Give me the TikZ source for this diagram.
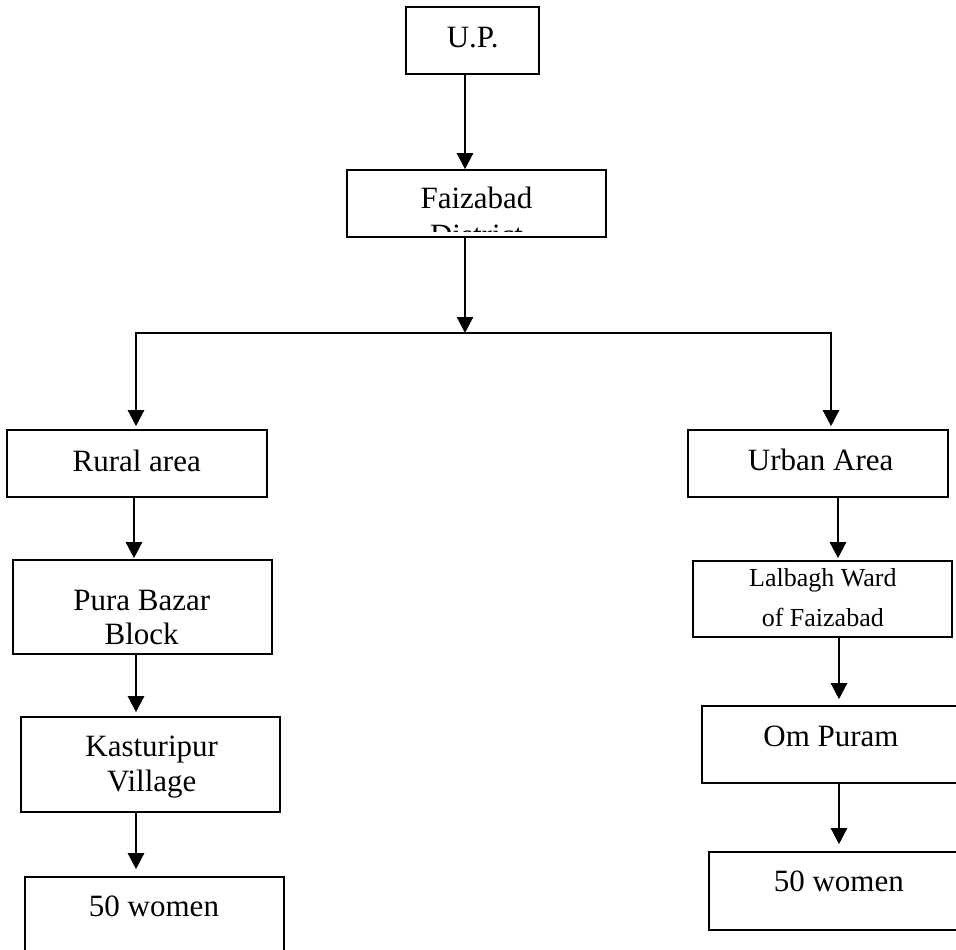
\documentclass[tikz,border=0pt]{standalone}
\usepackage{fontspec}
\setmainfont{Liberation Serif}
\usetikzlibrary{arrows.meta}
\begin{document}
\begin{tikzpicture}[x=1pt,y=-1pt,
  box/.style={draw=black,line width=1.6pt,rectangle,inner sep=0pt},
  txt/.style={anchor=base,inner sep=0pt,font=\fontsize{31}{36}\selectfont},
  smalltxt/.style={anchor=base,inner sep=0pt,font=\fontsize{26}{30}\selectfont},
  arr/.style={line width=2.4pt,-{Triangle[length=16pt,width=16pt]}},
  bar/.style={line width=2.4pt}]
\useasboundingbox (0,0) rectangle (956,950);
\clip (0,0) rectangle (956,950);
% boxes
\node[box,minimum width=133pt,minimum height=67pt] (up) at (472.5,40.5) {};
\node[box,minimum width=259pt,minimum height=67pt] (fz) at (476.5,203.5) {};
\node[box,minimum width=260pt,minimum height=67pt] (rural) at (137,463.5) {};
\node[box,minimum width=260pt,minimum height=67pt] (urban) at (818,463.5) {};
\node[box,minimum width=259pt,minimum height=94pt] (pura) at (142.5,607) {};
\node[box,minimum width=259pt,minimum height=76pt] (lal) at (822.5,599) {};
\node[box,minimum width=259pt,minimum height=95pt] (kas) at (150.5,764.5) {};
\node[box,minimum width=259pt,minimum height=77pt] (om) at (831.5,744.5) {};
\node[box,minimum width=259pt,minimum height=83pt] (wa) at (154.5,918.5) {};
\node[box,minimum width=259pt,minimum height=78pt] (wb) at (838.5,891) {};
% texts
\node[txt] (tup) at (472.7,48) {U.P.};
\node[txt] (tfz) at (476.5,208) {Faizabad};
\begin{scope}
\clip (348,171) rectangle (605,231);
\node[txt] (tfz2) at (476.5,245) {District};
\end{scope}
\node[txt] (trural) at (136.7,471.7) {Rural area};
\node[txt] (turban) at (820.7,470.7) {Urban Area};
\node[txt] (tpura1) at (141.7,610) {Pura Bazar};
\node[txt] (tpura2) at (141.7,644) {Block};
\node[smalltxt] (tlal1) at (822.8,586.7) {Lalbagh Ward};
\node[smalltxt] (tlal2) at (822.8,626) {of Faizabad};
\node[txt] (tkas1) at (151.7,756.7) {Kasturipur};
\node[txt] (tkas2) at (151.7,791.7) {Village};
\node[txt] (tom) at (831,746.7) {Om Puram};
\node[txt] (twa) at (154,916.7) {50 women};
\node[txt] (twb) at (838.8,891.7) {50 women};
% junctions
\coordinate (jm) at (465,333);
\coordinate (jl) at (136,333);
\coordinate (jr) at (831,333);
% connectors
\draw[arr] (up.south -| jm) -- (fz.north -| jm);
\draw[arr] (fz.south -| jm) -- (jm);
\draw[bar] ([xshift=-1.2pt]jl) -- ([xshift=1.2pt]jr);
\draw[arr,shorten >=3pt] (jl) -- (rural.north -| jl);
\draw[arr,shorten >=3pt] (jr) -- (urban.north -| jr);
\draw[arr,shorten >=1pt] (rural.south -| 134,0) -- (pura.north -| 134,0);
\draw[arr,shorten >=4pt] (pura.south -| 136,0) -- (kas.north -| 136,0);
\draw[arr,shorten >=7pt] (kas.south -| 136,0) -- (wa.north -| 136,0);
\draw[arr,shorten >=2pt] (urban.south -| 838,0) -- (lal.north -| 838,0);
\draw[arr,shorten >=6pt] (lal.south -| 839,0) -- (om.north -| 839,0);
\draw[arr,shorten >=7pt] (om.south -| 839,0) -- (wb.north -| 839,0);
\end{tikzpicture}
\end{document}
